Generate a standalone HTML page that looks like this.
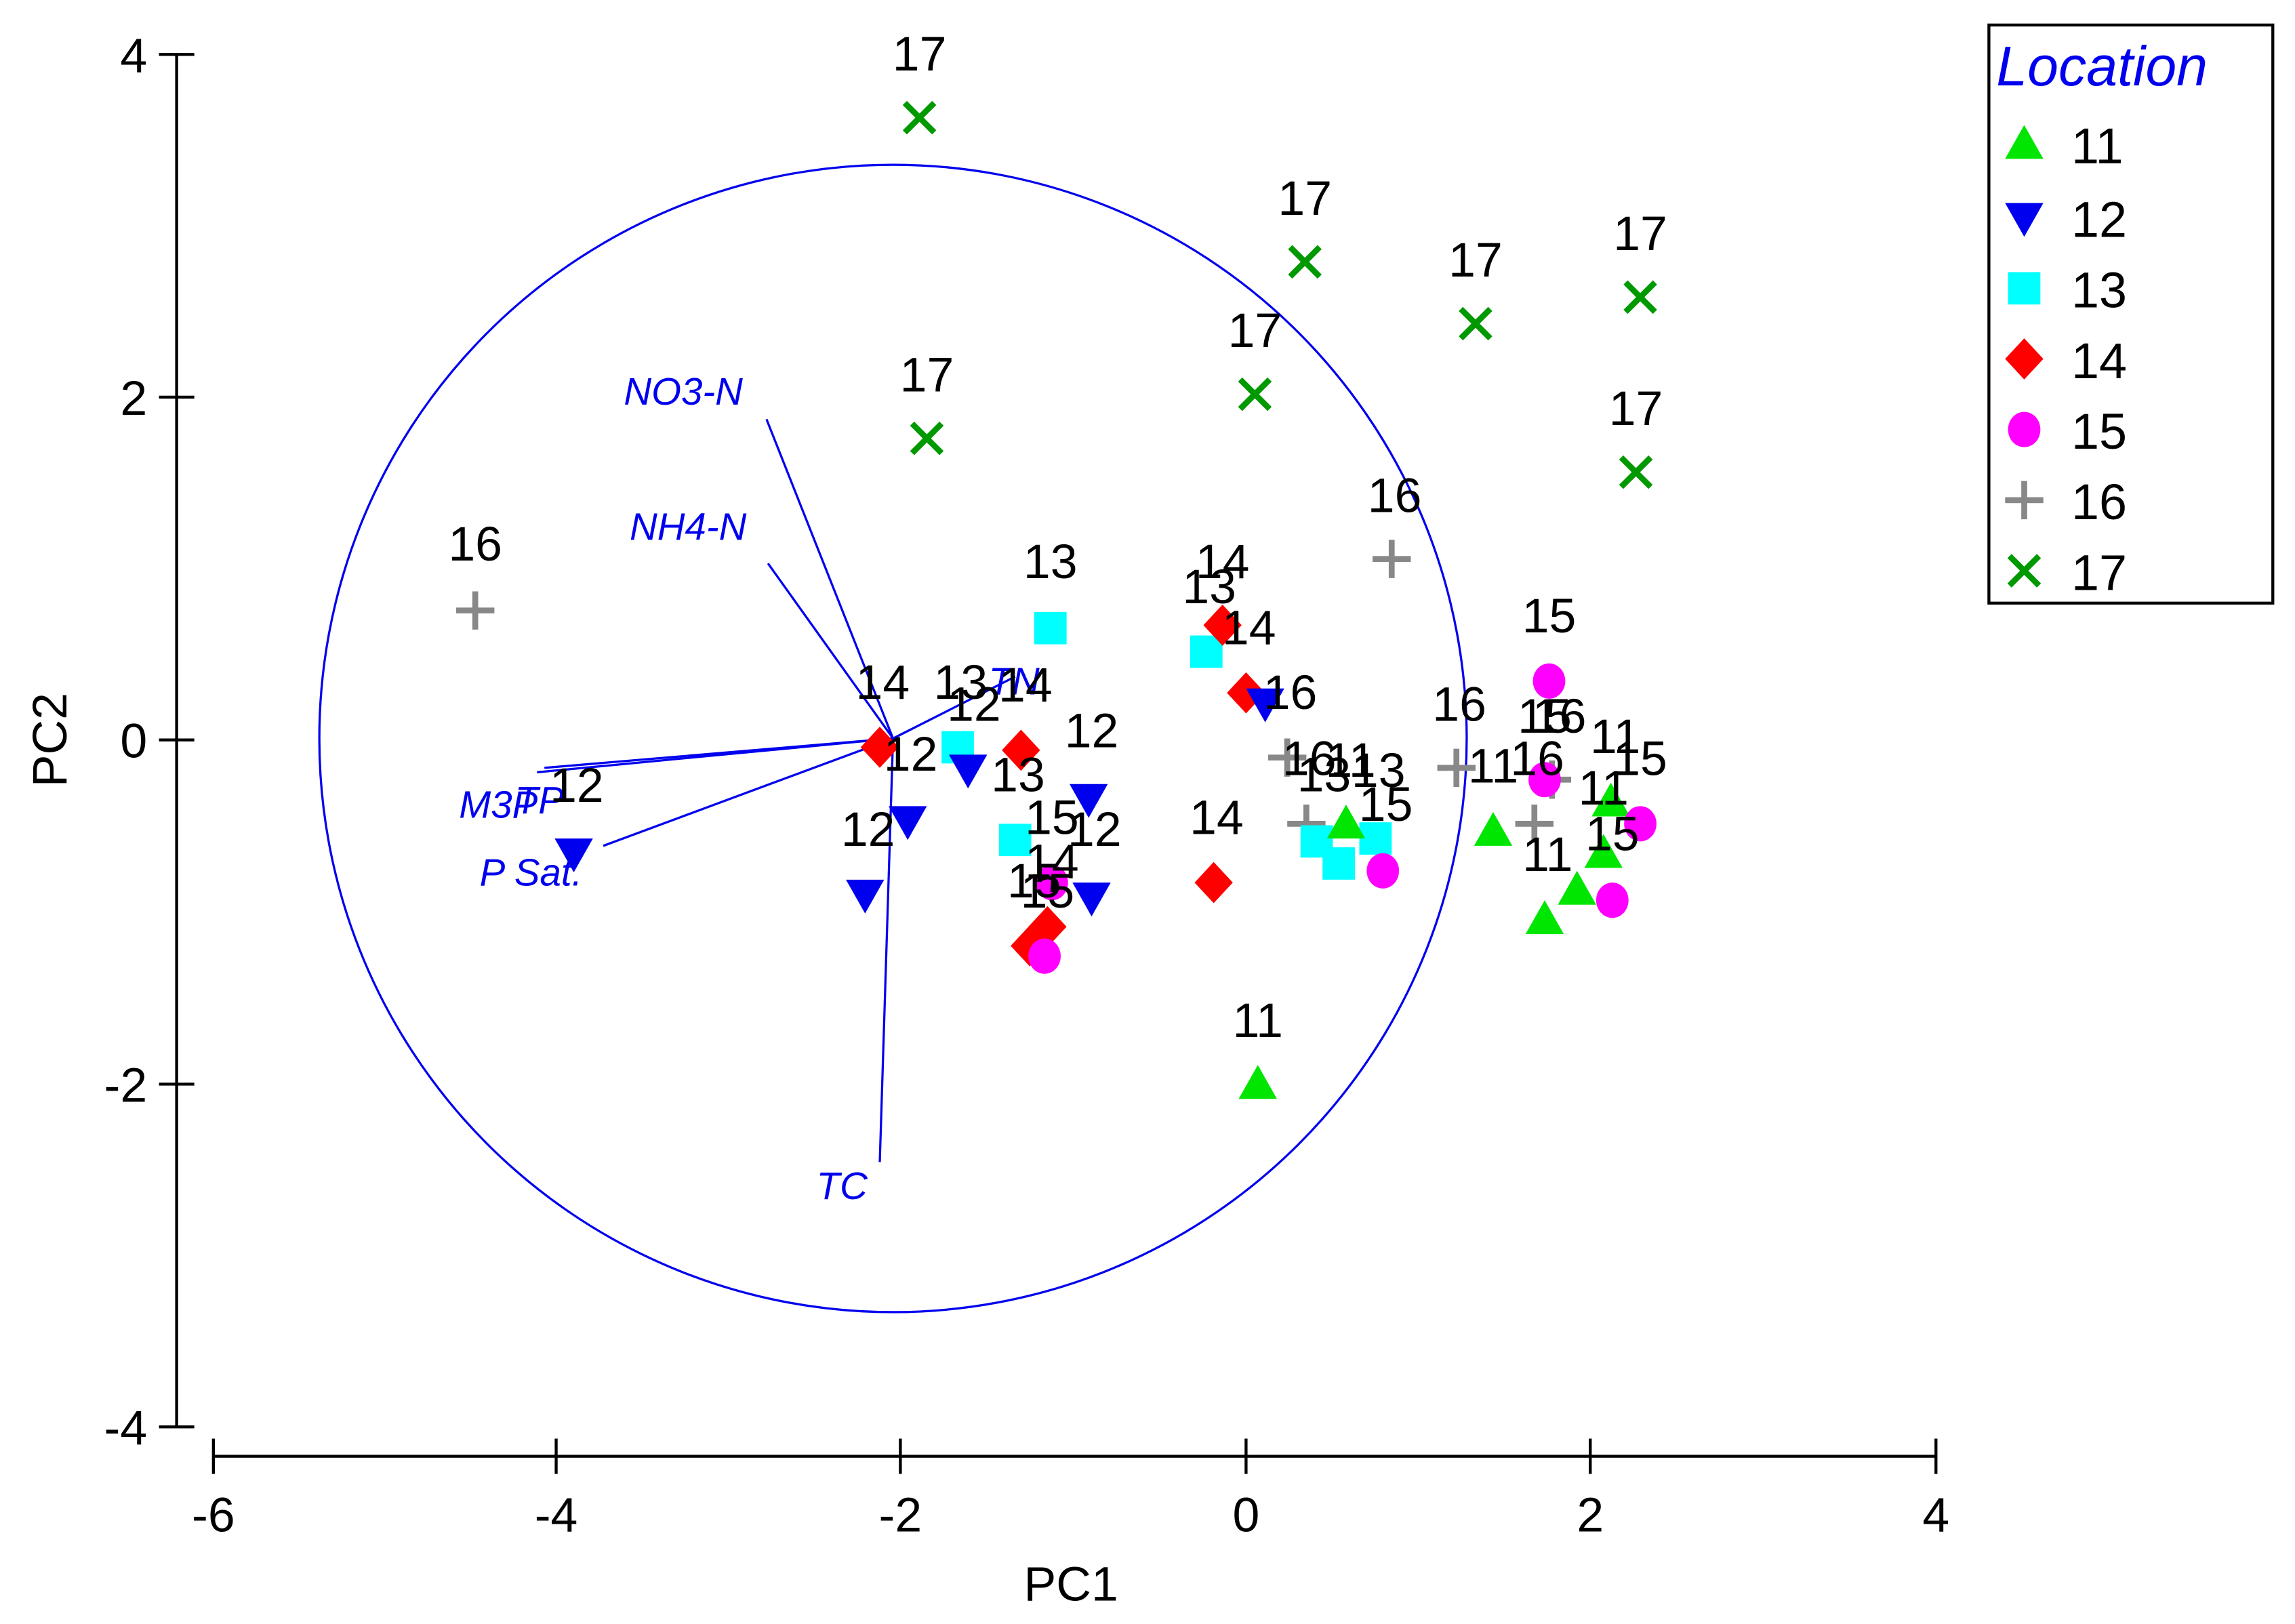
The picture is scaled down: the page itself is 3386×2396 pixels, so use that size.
<!DOCTYPE html>
<html><head><meta charset="utf-8"><style>html,body{margin:0;padding:0;background:#fff}svg{display:block}</style></head>
<body>
<svg width="3386" height="2396" viewBox="0 0 1560 1104" xmlns="http://www.w3.org/2000/svg" font-family="Liberation Sans, Arial, sans-serif">
<defs>
<g id="m11"><polygon points="0,-13 13,10 -13,10" fill="#00e600"/></g>
<g id="m12"><polygon points="-13,-10 13,-10 0,13" fill="#0000ee"/></g>
<g id="m13"><rect x="-11" y="-11" width="22" height="22" fill="#00ffff"/></g>
<g id="m14"><polygon points="0,-14 13,0 0,14 -13,0" fill="#ff0000"/></g>
<g id="m15"><ellipse rx="11" ry="12" fill="#ff00ff"/></g>
<g id="m16"><path d="M-13,0H13M0,-13V13" stroke="#888" stroke-width="4"/></g>
<g id="m17"><path d="M-10,-10L10,10M10,-10L-10,10" stroke="#009900" stroke-width="4"/></g>
</defs>
<g stroke="#000" stroke-width="2" fill="none">
<path d="M120,37V970"/>
<path d="M108,37H132M108,270H132M108,503H132M108,737H132M108,970H132"/>
<path d="M145,990H1316"/>
<path d="M145,978V1002M378,978V1002M612,978V1002M847,978V1002M1081,978V1002M1316,978V1002"/>
</g>
<g font-size="33" fill="#000" text-anchor="end">
<text x="100" y="49">4</text><text x="100" y="282">2</text><text x="100" y="515">0</text><text x="100" y="749">-2</text><text x="100" y="982">-4</text>
</g>
<g font-size="33" fill="#000" text-anchor="middle">
<text x="145" y="1041">-6</text><text x="378" y="1041">-4</text><text x="612" y="1041">-2</text><text x="847" y="1041">0</text><text x="1081" y="1041">2</text><text x="1316" y="1041">4</text>
<text x="728" y="1088">PC1</text>
<text transform="translate(45,503) rotate(-90)">PC2</text>
</g>
<circle cx="607" cy="502" r="390" fill="none" stroke="#0000ee" stroke-width="1.5"/>
<g stroke="#0000ee" stroke-width="1.5">
<line x1="607" y1="502" x2="521" y2="285"/>
<line x1="607" y1="502" x2="522" y2="383"/>
<line x1="607" y1="502" x2="598" y2="790"/>
<line x1="607" y1="502" x2="365" y2="525"/>
<line x1="607" y1="502" x2="370" y2="522"/>
<line x1="607" y1="502" x2="410" y2="575"/>
<line x1="607" y1="502" x2="690" y2="460"/>
</g>
<g font-size="26" font-style="italic" fill="#0000ee">
<text x="424" y="275">NO3-N</text>
<text x="428" y="367">NH4-N</text>
<text x="555" y="815">TC</text>
<text x="312" y="556">M3P</text>
<text x="350" y="553">TP</text>
<text x="326" y="602">P Sat.</text>
<text x="672" y="472">TN</text>
</g>
<use href="#m17" x="625" y="80"/><use href="#m17" x="630" y="298"/><use href="#m17" x="887" y="178"/><use href="#m17" x="853" y="268"/><use href="#m17" x="1003" y="220"/><use href="#m17" x="1115" y="202"/><use href="#m17" x="1112" y="321"/>
<use href="#m16" x="323" y="415"/><use href="#m16" x="946" y="380"/><use href="#m16" x="875" y="515"/><use href="#m16" x="888" y="560"/><use href="#m16" x="990" y="522"/><use href="#m16" x="1043" y="560"/><use href="#m16" x="1055" y="530"/>
<use href="#m13" x="714" y="427"/><use href="#m13" x="820" y="443"/><use href="#m13" x="651" y="508"/><use href="#m13" x="690" y="571"/><use href="#m13" x="895" y="572"/><use href="#m13" x="910" y="587"/><use href="#m13" x="935" y="570"/>
<use href="#m14" x="598" y="508"/><use href="#m14" x="694" y="510"/><use href="#m14" x="831" y="425"/><use href="#m14" x="847" y="471"/><use href="#m14" x="825" y="600"/><use href="#m14" x="712" y="630"/><use href="#m14" x="700" y="643"/>
<use href="#m12" x="390" y="580"/><use href="#m12" x="588" y="608"/><use href="#m12" x="617" y="558"/><use href="#m12" x="658" y="523"/><use href="#m12" x="740" y="543"/><use href="#m12" x="742" y="610"/><use href="#m12" x="860" y="478"/>
<use href="#m11" x="855" y="737"/><use href="#m11" x="915" y="560"/><use href="#m11" x="1015" y="565"/><use href="#m11" x="1050" y="625"/><use href="#m11" x="1072" y="605"/><use href="#m11" x="1090" y="580"/><use href="#m11" x="1095" y="545"/>
<use href="#m15" x="1053" y="463"/><use href="#m15" x="1050" y="530"/><use href="#m15" x="1115" y="560"/><use href="#m15" x="1096" y="612"/><use href="#m15" x="940" y="592"/><use href="#m15" x="715" y="600"/><use href="#m15" x="710" y="650"/>
<g font-size="33" fill="#000" text-anchor="middle">
<text x="625" y="48">17</text><text x="630" y="266">17</text><text x="887" y="146">17</text><text x="853" y="236">17</text><text x="1003" y="188">17</text><text x="1115" y="170">17</text><text x="1112" y="289">17</text>
<text x="323" y="381">16</text><text x="948" y="348">16</text><text x="877" y="482">16</text><text x="890" y="527">16</text><text x="992" y="490">16</text><text x="1045" y="527">16</text><text x="1060" y="498">16</text>
<text x="714" y="393">13</text><text x="822" y="410">13</text><text x="653" y="475">13</text><text x="692" y="538">13</text><text x="900" y="538">13</text><text x="937" y="535">13</text>
<text x="600" y="475">14</text><text x="697" y="477">14</text><text x="831" y="393">14</text><text x="849" y="438">14</text><text x="827" y="567">14</text><text x="715" y="597">14</text><text x="703" y="610">15</text>
<text x="392" y="545">12</text><text x="590" y="575">12</text><text x="619" y="524">12</text><text x="662" y="490">12</text><text x="742" y="508">12</text><text x="744" y="575">12</text>
<text x="855" y="705">11</text><text x="918" y="528">11</text><text x="1015" y="532">11</text><text x="1052" y="592">11</text><text x="1090" y="547">11</text><text x="1098" y="512">11</text>
<text x="1053" y="430">15</text><text x="1050" y="498">15</text><text x="1115" y="527">15</text><text x="1096" y="578">15</text><text x="942" y="558">15</text><text x="715" y="567">15</text><text x="712" y="617">15</text>
</g>
<rect x="1352" y="17" width="193" height="393" fill="#fff" stroke="#000" stroke-width="2"/>
<text x="1357" y="58" font-size="38" font-style="italic" fill="#0000ee">Location</text>
<use href="#m11" x="1376" y="98"/><use href="#m12" x="1376" y="148"/><use href="#m13" x="1376" y="196"/><use href="#m14" x="1376" y="244"/><use href="#m15" x="1376" y="292"/><use href="#m16" x="1376" y="340"/><use href="#m17" x="1376" y="388"/>
<g font-size="34" fill="#000">
<text x="1408" y="111">11</text><text x="1408" y="161">12</text><text x="1408" y="209">13</text><text x="1408" y="257">14</text><text x="1408" y="305">15</text><text x="1408" y="353">16</text><text x="1408" y="401">17</text>
</g>
</svg>
</body></html>
